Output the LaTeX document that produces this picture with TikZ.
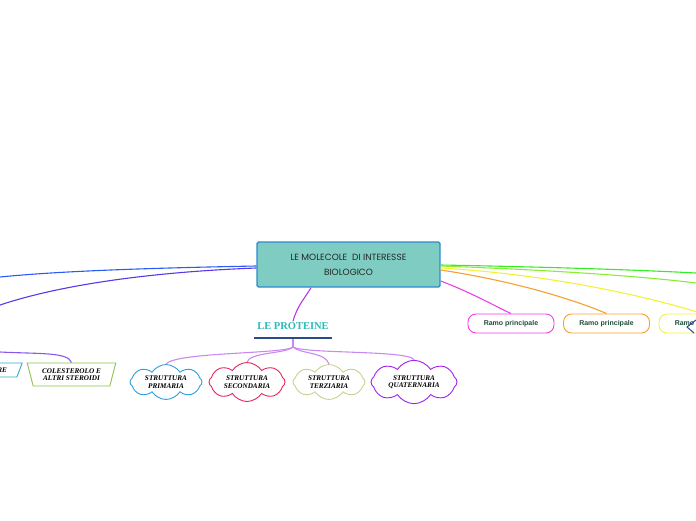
\documentclass[tikz,border=0pt]{standalone}
\usepackage{fontspec}
\setmainfont{Liberation Serif}
\newfontfamily\hand{Poppins}
\newfontfamily\ramo{Liberation Sans}
\usetikzlibrary{shapes.symbols,shapes.geometric}
\definecolor{mainfill}{HTML}{7ECCC2}
\definecolor{mainborder}{HTML}{2D8BD0}
\definecolor{protc}{HTML}{2AB8B8}
\definecolor{navy}{HTML}{2A4A8A}
\definecolor{lilac}{HTML}{C98AF0}
\definecolor{cblue}{HTML}{2EA0E0}
\definecolor{cpink}{HTML}{E8245C}
\definecolor{colive}{HTML}{CDD08E}
\definecolor{cpurple}{HTML}{A020F0}
\definecolor{rmag}{HTML}{F03CE6}
\definecolor{rorange}{HTML}{F5A030}
\definecolor{ryellow}{HTML}{F2F23A}
\definecolor{rgreen}{HTML}{33EE22}
\definecolor{rlgreen}{HTML}{88EE33}
\definecolor{lblue}{HTML}{2A5CF5}
\definecolor{lviolet}{HTML}{5A38E8}
\definecolor{ramotext}{HTML}{1F4E3D}
\definecolor{greenb}{HTML}{8BC34A}
\definecolor{tealb}{HTML}{2AAFC0}
\tikzset{
  x=1pt,y=-1pt,
  cloudnode/.style={cloud, cloud puffs=8, cloud puff arc=115, aspect=2.1, draw, line width=0.9pt,
    minimum width=72, minimum height=30, inner sep=-2pt, align=center,
    font=\fontsize{7.2}{7.6}\selectfont\bfseries\itshape},
  ramobox/.style={draw, rounded corners=8, line width=0.9pt, minimum width=86, minimum height=19,
    font=\ramo\fontsize{7}{7}\selectfont\bfseries, text=ramotext},
  conn/.style={line width=1.1pt},
}
\begin{document}
\begin{tikzpicture}
\useasboundingbox (0,0) rectangle (696,520);
% main
\node[draw=mainborder, fill=mainfill, line width=1.4pt, rounded corners=1.5, minimum width=183, minimum height=45,
  align=center, font=\hand\fontsize{9}{15}\selectfont, text=black!85] (main) at (348.5,264.5)
  {LE MOLECOLE\ \ DI INTERESSE\\BIOLOGICO};
% coordinates off-canvas
\coordinate (offL1) at (0,277);
\coordinate (offL2) at (0,305);
\coordinate (offR1) at (696,273);
\coordinate (offR2) at (696,283);
\coordinate (offL3) at (0,352);
% left lines
\draw[lblue, conn] (main.west |- 0,266) .. controls (150,268) and (60,271) .. (offL1);
\draw[lviolet, conn] (main.west |- 0,268) .. controls (150,272) and (60,285) .. (offL2);
% right lines
\draw[rgreen, conn] (main.east |- 0,265) .. controls (550,267) and (640,270) .. (offR1);
\draw[rlgreen, conn] (main.east |- 0,266) .. controls (550,270) and (640,276) .. (offR2);
% ramo boxes
\node[ramobox, draw=rmag] (r1) at (511,323.5) {Ramo principale};
\node[ramobox, draw=rorange] (r2) at (606.5,323.5) {Ramo principale};
\node[ramobox, draw=ryellow] (r3) at (702,323.5) {Ramo principale};
\draw[ryellow, conn] (main.east |- 0,268) .. controls (560,275) and (660,300) .. (r3.north);
\draw[rorange, conn] (main.east |- 0,270) .. controls (520,282) and (580,302) .. (r2.north);
\draw[rmag, conn] (main.east |- 0,281) .. controls (470,292) and (495,306) .. (r1.north);
\coordinate (z1) at (696,320);
\coordinate (z2) at (687,327);
\coordinate (z3) at (694,333);
\draw[navy, line width=1pt] (z1) -- (z2) -- (z3);
% proteine
\node[font=\fontsize{10.5}{11}\selectfont\bfseries, text=protc, inner sep=1pt] (prot) at (293,326) {LE PROTEINE};
\coordinate (ulL) at (254,338);
\coordinate (ulR) at (332,338);
\draw[navy, line width=2.3pt] (ulL) -- (ulR);
\coordinate (pt) at (293,339);
\coordinate (hub) at (293,347);
\draw[rmag!60!lviolet, conn] (main.south -| 311,0) .. controls (305,298) and (297,306) .. (prot.north);
% clouds
\node[cloudnode, draw=cblue] (c1) at (166,382) {STRUTTURA\\PRIMARIA};
\node[cloudnode, draw=cpink, minimum width=76] (c2) at (247,382) {STRUTTURA\\SECONDARIA};
\node[cloudnode, draw=colive] (c3) at (329,382) {STRUTTURA\\TERZIARIA};
\node[cloudnode, draw=cpurple, minimum width=86] (c4) at (414,382) {STRUTTURA\\QUATERNARIA};
\draw[lilac, conn] (pt) -- (hub);
\draw[lilac, conn] (hub) .. controls (285,354) and (175,352) .. (c1.north);
\draw[lilac, conn] (hub) .. controls (285,354) and (250,352) .. (c2.north);
\draw[lilac, conn] (hub) .. controls (300,354) and (326,352) .. (c3.north);
\draw[lilac, conn] (hub) .. controls (305,354) and (410,350) .. (c4.north);
% left shapes
\node[trapezium, trapezium angle=-70, draw=greenb, line width=0.9pt,
  minimum width=89, minimum height=23, inner sep=0pt, align=center,
  font=\fontsize{7.2}{7.6}\selectfont\bfseries\itshape, trapezium stretches=true] (col) at (71.5,374.5)
  {COLESTEROLO E\\ALTRI STEROIDI};
\draw[lviolet!60!lilac, conn] (offL3) .. controls (40,354) and (68,352) .. (col.north);
\node[trapezium, trapezium left angle=70, trapezium right angle=110, draw=tealb, line width=0.9pt,
  minimum width=40, minimum height=14, inner sep=0pt, trapezium stretches=true,
  font=\fontsize{7.2}{7.6}\selectfont\bfseries\itshape, anchor=east] (re) at (20,370) {\hfill RE};
\end{tikzpicture}
\end{document}
